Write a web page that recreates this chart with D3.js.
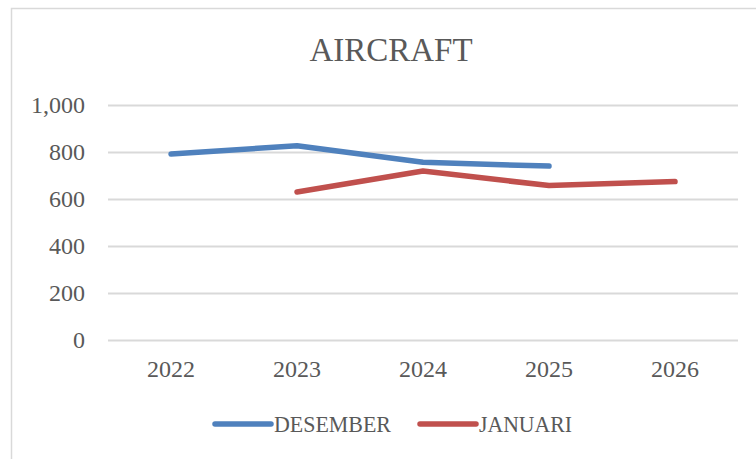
<!DOCTYPE html>
<html>
<head>
<meta charset="utf-8">
<script src="https://cdn.jsdelivr.net/npm/d3@7"></script>
<style>
  body { margin: 0; background: #fff; }
  text { font-family: "Liberation Serif", "DejaVu Serif", serif; fill: #595959; }
</style>
</head>
<body>
<div id="chart"></div>
<script>
// chart data
var years = ["2022", "2023", "2024", "2025", "2026"];
var desember = [791, 827, 756, 740, null];
var januari = [null, 630, 719, 657, 674];
var yTicks = [0, 200, 400, 600, 800, 1000];

var width = 756, height = 459;

var series = [
    { name: "DESEMBER", colour: "#4F81BD", values: desember },
    { name: "JANUARI", colour: "#C0504D", values: januari }
];

var svg = d3.select("#chart").append("svg")
    .attr("width", width)
    .attr("height", height);

// chart frame (right and bottom edges fall outside the picture)
svg.append("rect")
    .attr("x", 11.5).attr("y", 8.5)
    .attr("width", 780).attr("height", 470)
    .attr("fill", "#fff")
    .attr("stroke", "#D9D9D9")
    .attr("stroke-width", 1.5);

svg.append("text")
    .attr("x", 391).attr("y", 61)
    .attr("text-anchor", "middle")
    .style("font-size", "33px")
    .text("AIRCRAFT");

var x = d3.scaleBand().domain(years).range([108, 738]);
var y = d3.scaleLinear().domain([0, 1000]).range([340, 105]);

// gridlines + y labels
var yAxis = svg.append("g")
    .attr("transform", "translate(108,0)")
    .call(d3.axisLeft(y).tickValues(yTicks).tickSize(-630).tickFormat(d3.format(",")).tickPadding(23));
yAxis.select(".domain").remove();
yAxis.selectAll("line").attr("stroke", "#D9D9D9").attr("stroke-width", 2);
yAxis.selectAll("text")
    .attr("fill", "#595959")
    .style("font-family", "Liberation Serif, serif")
    .style("font-size", "24px");

// x labels
var xAxis = svg.append("g")
    .attr("transform", "translate(0,340)")
    .call(d3.axisBottom(x).tickSize(0).tickPadding(20));
xAxis.select(".domain").remove();
xAxis.selectAll("text")
    .attr("fill", "#595959")
    .style("font-family", "Liberation Serif, serif")
    .style("font-size", "24px");

var line = d3.line()
    .defined(function(d) { return d != null; })
    .x(function(d, i) { return x(years[i]) + x.bandwidth() / 2; })
    .y(function(d) { return y(d); });

svg.selectAll(".series")
    .data(series)
    .enter().append("path")
    .attr("class", "series")
    .attr("d", function(d) { return line(d.values); })
    .attr("fill", "none")
    .attr("stroke", function(d) { return d.colour; })
    .attr("stroke-width", 5.5)
    .attr("stroke-linecap", "round")
    .attr("stroke-linejoin", "round");

// legend
var legendX = [215, 420];
var legend = svg.selectAll(".legend")
    .data(series)
    .enter().append("g")
    .attr("class", "legend")
    .attr("transform", function(d, i) { return "translate(" + legendX[i] + ",424)"; });
legend.append("line")
    .attr("x1", 0).attr("x2", 56)
    .attr("stroke", function(d) { return d.colour; })
    .attr("stroke-width", 5.5)
    .attr("stroke-linecap", "round");
legend.append("text")
    .attr("x", 59).attr("y", 8)
    .style("font-size", "23px")
    .attr("textLength", function(d, i) { return i === 0 ? 117 : 93; })
    .attr("lengthAdjust", "spacingAndGlyphs")
    .text(function(d) { return d.name; });
</script>
</body>
</html>
